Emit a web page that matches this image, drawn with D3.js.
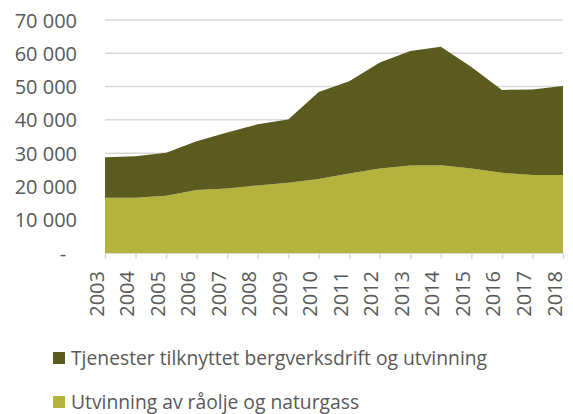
<!DOCTYPE html>
<html>
<head>
<meta charset="utf-8">
<script src="https://cdn.jsdelivr.net/npm/d3@7"></script>
<style>
  body { margin: 0; background: #fff; }
  svg text { font-family: "Open Sans", sans-serif; fill: #595959; }
</style>
</head>
<body>
<svg id="chart" width="573" height="414"></svg>
<script>
var years = [2003, 2004, 2005, 2006, 2007, 2008, 2009, 2010, 2011, 2012, 2013, 2014, 2015, 2016, 2017, 2018];
var utvinning = [16600, 16600, 17200, 18900, 19400, 20300, 21100, 22200, 23900, 25400, 26300, 26400, 25400, 24100, 23400, 23400];
var tjenester = [12200, 12500, 12900, 14700, 16800, 18400, 19000, 26200, 27700, 31800, 34400, 35600, 30500, 24900, 25700, 26800];
var yTicks = [0, 10000, 20000, 30000, 40000, 50000, 60000, 70000];
var seriesNames = ['Tjenester tilknyttet bergverksdrift og utvinning', 'Utvinning av råolje og naturgass'];

var rows = years.map(function(y, i) {
  return { year: y, utvinning: utvinning[i], tjenester: tjenester[i] };
});

var svg = d3.select('#chart');

var x = d3.scaleLinear()
  .domain([2003, 2018])
  .range([105, 563]);

var y = d3.scaleLinear()
  .domain([0, 70000])
  .range([253, 20]);

// gridlines
svg.append('g')
  .selectAll('line')
  .data(yTicks.slice(1))
  .enter()
  .append('line')
    .attr('x1', 105)
    .attr('x2', 563)
    .attr('y1', function(d) { return y(d); })
    .attr('y2', function(d) { return y(d); })
    .attr('stroke', '#d9d9d9')
    .attr('stroke-width', 1.5);

var stack = d3.stack().keys(['utvinning', 'tjenester']);
var layers = stack(rows);
var colors = { utvinning: '#b5b33d', tjenester: '#5b5a1f' };

var area = d3.area()
  .x(function(d) { return x(d.data.year); })
  .y0(function(d) { return y(d[0]); })
  .y1(function(d) { return y(d[1]); });

svg.append('g')
  .selectAll('path')
  .data(layers)
  .enter()
  .append('path')
    .attr('d', area)
    .attr('fill', function(d) { return colors[d.key]; });

// y axis
var axisY = d3.axisLeft(y)
  .tickValues(yTicks)
  .tickSize(0)
  .tickPadding(0)
  .tickFormat(function(d) { return d === 0 ? '-' : d3.format(',')(d).replace(',', ' '); });

var gy = svg.append('g')
  .attr('transform', 'translate(77,0)')
  .call(axisY);
gy.select('.domain').remove();
gy.selectAll('text')
  .style('font-size', '20px')
  .attr('dy', '0.35em');
gy.selectAll('text')
  .filter(function(d) { return d === 0; })
  .attr('text-anchor', 'middle')
  .attr('x', -14);

// x axis
var axisX = d3.axisBottom(x)
  .tickValues(years)
  .tickSize(6)
  .tickFormat(d3.format('d'));

var gx = svg.append('g')
  .attr('transform', 'translate(0,253)')
  .call(axisX);
gx.select('.domain').attr('stroke', '#d9d9d9');
gx.selectAll('.tick line').attr('stroke', '#d9d9d9').attr('stroke-width', 1.5);
gx.selectAll('text')
  .style('font-size', '20px')
  .attr('transform', 'rotate(-90)')
  .attr('text-anchor', 'end')
  .attr('x', -18)
  .attr('y', -2)
  .attr('dy', 0);

// legend
var legend = svg.append('g')
  .selectAll('g')
  .data(seriesNames)
  .enter()
  .append('g')
    .attr('transform', function(d, i) { return 'translate(53,' + (352 + i * 44) + ')'; });

legend.append('rect')
  .attr('width', 12)
  .attr('height', 12)
  .attr('fill', function(d, i) { return i === 0 ? colors.tjenester : colors.utvinning; });

legend.append('text')
  .attr('x', 18)
  .attr('y', 6)
  .attr('dy', '0.35em')
  .style('font-size', '19.3px')
  .text(function(d) { return d; });
</script>
</body>
</html>
